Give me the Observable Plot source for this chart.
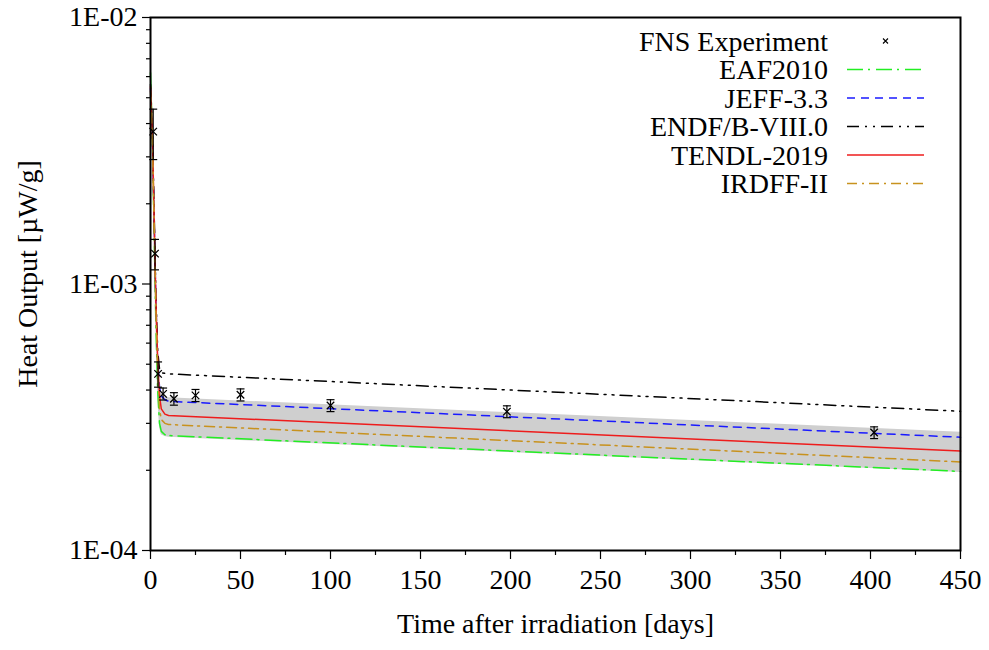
<!DOCTYPE html>
<html><head><meta charset="utf-8">
<script src="https://cdn.jsdelivr.net/npm/d3@7"></script>
<script src="https://cdn.jsdelivr.net/npm/@observablehq/plot@0.6"></script>
<style>
body{margin:0;background:#fff;}
#wrap{position:relative;width:989px;height:650px;}
#legend{position:absolute;left:0;top:0;pointer-events:none;}
</style></head><body><div id="wrap"></div>
<script>
// ---- Experimental data (FNS) ----
const expTime  = [1.5, 2.5, 4.2, 7, 13, 25, 50, 100, 198, 402];
const expValue = [3.73e-3, 1.30e-3, 4.60e-4, 3.87e-4, 3.71e-4, 3.82e-4, 3.84e-4, 3.50e-4, 3.32e-4, 2.77e-4];
const expError = [0.8e-3, 0.17e-3, 0.5e-4, 0.2e-4, 0.2e-4, 0.2e-4, 0.2e-4, 0.18e-4, 0.17e-4, 0.14e-4];

// ---- Calculations (days, µW/g) ----
const calcTime  = [0, 1, 2, 3, 4, 5, 6, 8, 10, 450];
const eaf2010   = [6.2e-3, 3.6e-3, 1.6e-3, 7.0e-4, 4.0e-4, 3.0e-4, 2.8e-4, 2.72e-4, 2.70e-4, 1.98e-4];
const jeff33    = [5.4e-3, 3.7e-3, 1.8e-3, 8.5e-4, 5.2e-4, 4.1e-4, 3.8e-4, 3.68e-4, 3.63e-4, 2.66e-4];
const endf80    = [5.6e-3, 3.9e-3, 1.9e-3, 9.0e-4, 5.6e-4, 4.8e-4, 4.65e-4, 4.62e-4, 4.60e-4, 3.33e-4];
const tendl2019 = [5.5e-3, 3.8e-3, 1.8e-3, 8.5e-4, 5.2e-4, 3.8e-4, 3.4e-4, 3.25e-4, 3.21e-4, 2.36e-4];
const irdff2    = [5.3e-3, 3.7e-3, 1.7e-3, 8.0e-4, 4.6e-4, 3.4e-4, 3.1e-4, 3.0e-4, 2.97e-4, 2.15e-4];
const bandUpper = [6.5e-3, 4.5e-3, 2.2e-3, 1.0e-3, 6.0e-4, 4.3e-4, 3.9e-4, 3.78e-4, 3.74e-4, 2.78e-4];
const bandLower = [4.6e-3, 3.2e-3, 1.5e-3, 6.5e-4, 3.8e-4, 2.9e-4, 2.72e-4, 2.68e-4, 2.66e-4, 1.96e-4];

const seriesNames = ["EAF2010", "JEFF-3.3", "ENDF/B-VIII.0", "TENDL-2019", "IRDFF-II"];
const seriesValues = [eaf2010, jeff33, endf80, tendl2019, irdff2];
const expName = "FNS Experiment";

// ---- Ticks ----
const xMajorTicks = [0, 50, 100, 150, 200, 250, 300, 350, 400, 450];
const xMinorTicks = [25, 75, 125, 175, 225, 275, 325, 375, 425];
const yMajorTicks = [1e-4, 1e-3, 1e-2];
const yTickLabels = ["1E-04", "1E-03", "1E-02"];
const yMinorTicks = [2e-4, 3e-4, 4e-4, 5e-4, 6e-4, 7e-4, 8e-4, 9e-4, 2e-3, 3e-3, 4e-3, 5e-3, 6e-3, 7e-3, 8e-3, 9e-3];
const xLabel = "Time after irradiation [days]";
const yLabel = "Heat Output [µW/g]";

// styles (not data)
const styles = [
  {color: "#22ee22", dash: "16,5,2,6"},
  {color: "#1a1aff", dash: "8,6"},
  {color: "#000000", dash: "12,6,2,6,2,6"},
  {color: "#ee1c1c", dash: null},
  {color: "#c8921e", dash: "10,5,2,5"}
];

const expData = expTime.map((t, i) => ({t, v: expValue[i], lo: expValue[i] - expError[i], hi: expValue[i] + expError[i]}));
const bandData = calcTime.map((t, i) => ({t, lo: bandLower[i], hi: bandUpper[i]}));
const seriesData = seriesValues.map(vals => calcTime.map((t, i) => ({t, v: vals[i]})));

const capSymbol = {draw(ctx, size) { const w = Math.sqrt(size / Math.PI); ctx.moveTo(-w, 0); ctx.lineTo(w, 0); }};

const marks = [
  Plot.areaY(bandData, {x: "t", y1: "lo", y2: "hi", fill: "#cfcfcf"}),
  ...seriesData.map((d, i) => Plot.line(d, {x: "t", y: "v", stroke: styles[i].color, strokeWidth: 1.5,
      strokeDasharray: styles[i].dash || undefined})),
  Plot.ruleX(expData, {x: "t", y1: "lo", y2: "hi", stroke: "black", strokeWidth: 1.2}),
  Plot.dot(expData, {x: "t", y: "lo", symbol: capSymbol, r: 4, stroke: "black", fill: "none", strokeWidth: 1.2}),
  Plot.dot(expData, {x: "t", y: "hi", symbol: capSymbol, r: 4, stroke: "black", fill: "none", strokeWidth: 1.2}),
  Plot.dot(expData, {x: "t", y: "v", symbol: "times", r: 3.5, stroke: "black", strokeWidth: 1.3}),
  Plot.frame({stroke: "black", strokeWidth: 2}),
  Plot.axisX(xMajorTicks, {tickSize: 9, tickPadding: 10, tickFormat: d => String(d), label: null, fontSize: 28, strokeWidth: 1.2}),
  Plot.axisX(xMinorTicks, {tickSize: 5, tickFormat: () => "", label: null, strokeWidth: 1.2}),
  Plot.axisY(yMajorTicks, {tickSize: 8, tickPadding: 5, tickFormat: (d) => yTickLabels[yMajorTicks.indexOf(d)], label: null, fontSize: 28, strokeWidth: 1.2}),
  Plot.axisY(yMinorTicks, {tickSize: 4, tickFormat: () => "", label: null, strokeWidth: 1.2}),
  Plot.text([xLabel], {frameAnchor: "bottom", dy: 82, fontSize: 28, textAnchor: "middle"}),
  Plot.text([yLabel], {frameAnchor: "left", dx: -122, dy: -10, rotate: -90, fontSize: 28, textAnchor: "middle"})
];

const chart = Plot.plot({
  width: 989, height: 650,
  marginLeft: 150, marginRight: 29, marginTop: 17, marginBottom: 100,
  style: {fontFamily: "'Liberation Serif', 'Times New Roman', serif", fontSize: "28px", background: "white", color: "black"},
  x: {domain: [0, 450]},
  y: {type: "log", domain: [1e-4, 1e-2]},
  marks
});
const wrap = document.getElementById("wrap");
wrap.appendChild(chart);

// ---- Legend overlay ----
const leg = d3.select(wrap).append("svg").attr("id", "legend").attr("width", 989).attr("height", 650)
  .style("font-family", "'Liberation Serif', 'Times New Roman', serif").style("font-size", "28px");
const rowY0 = 41, rowStep = 28.5, textX = 828, lx1 = 847, lx2 = 924;
leg.append("text").attr("x", textX).attr("y", rowY0).attr("text-anchor", "end").attr("dy", "0.35em").text(expName);
const mx = 885.5, ms = 2.5;
leg.append("path").attr("d", `M${mx-ms},${rowY0-ms}L${mx+ms},${rowY0+ms}M${mx-ms},${rowY0+ms}L${mx+ms},${rowY0-ms}`)
  .attr("stroke", "black").attr("stroke-width", 1.1);
seriesNames.forEach((name, i) => {
  const y = rowY0 + rowStep * (i + 1);
  leg.append("text").attr("x", textX).attr("y", y).attr("text-anchor", "end").attr("dy", "0.35em").text(name);
  const ln = leg.append("line").attr("x1", lx1).attr("x2", lx2).attr("y1", y).attr("y2", y)
    .attr("stroke", styles[i].color).attr("stroke-width", 1.5);
  if (styles[i].dash) ln.attr("stroke-dasharray", styles[i].dash);
});
</script></body></html>
